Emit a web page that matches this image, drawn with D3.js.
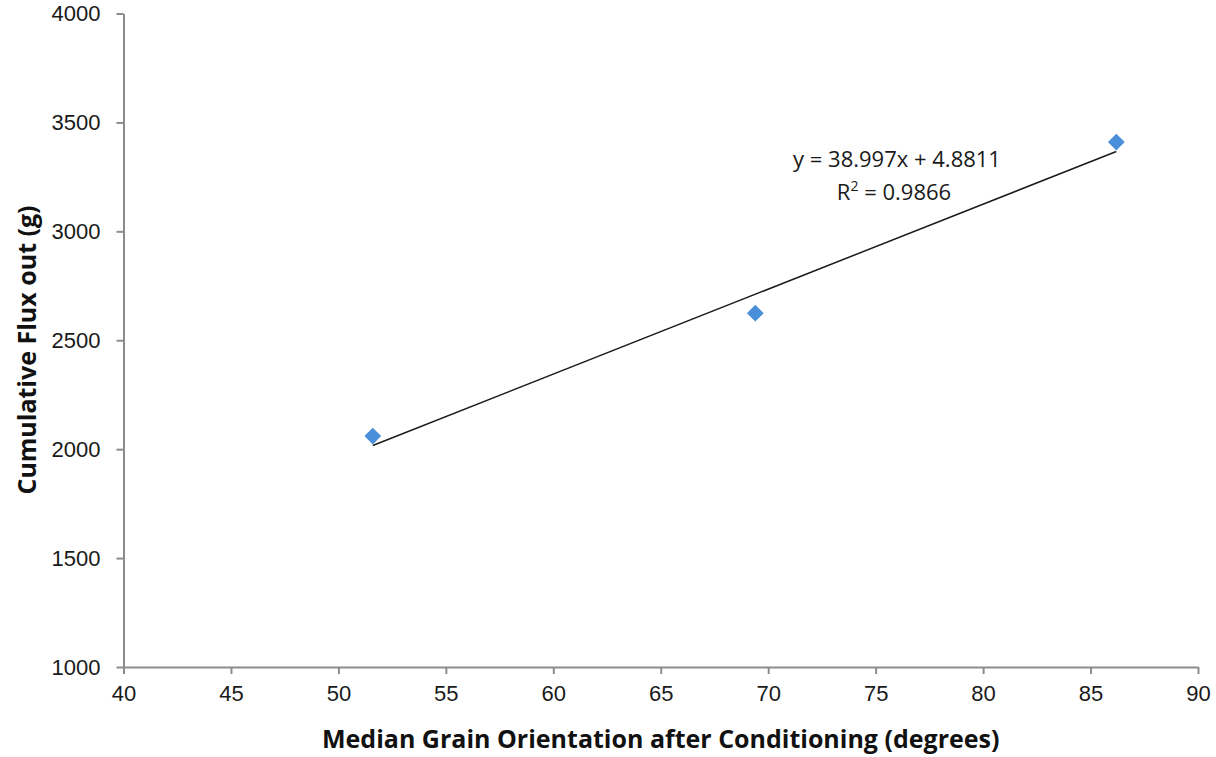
<!DOCTYPE html>
<html>
<head>
<meta charset="utf-8">
<script src="https://cdn.jsdelivr.net/npm/d3@7"></script>
<style>
  body { margin: 0; background: #fff; }
  svg { display: block; }
</style>
</head>
<body>
<svg></svg>
<script>
let width = 1216, height = 757;

// data
let orientation = [51.6, 69.4, 86.2];
let flux = [2060, 2624, 3410];
let xTicks = [40, 45, 50, 55, 60, 65, 70, 75, 80, 85, 90];
let yTicks = [1000, 1500, 2000, 2500, 3000, 3500, 4000];
let slope = 38.997, intercept = 4.8811;
let eqLabel = "y = 38.997x + 4.8811";
let r2Label = "0.9866";

let svg = d3.select("svg")
    .attr("width", width)
    .attr("height", height);

let x = d3.scaleLinear().domain([40, 90]).range([123.5, 1198]);
let y = d3.scaleLinear().domain([1000, 4000]).range([667, 13.5]);

let font = "'Open Sans', 'Liberation Sans', sans-serif";
let tickFont = "'Liberation Sans', Arial, sans-serif";

// axes
let xAxis = svg.append("g")
    .attr("transform", "translate(0," + y(1000) + ")")
    .call(d3.axisBottom(x).tickValues(xTicks).tickFormat(d3.format("d"))
        .tickSize(7).tickPadding(11).tickSizeOuter(0));

let yAxis = svg.append("g")
    .attr("transform", "translate(" + x(40) + ",0)")
    .call(d3.axisLeft(y).tickValues(yTicks).tickFormat(d3.format("d"))
        .tickSize(7).tickPadding(16).tickSizeOuter(0));

[xAxis, yAxis].forEach(a => {
    a.select(".domain").attr("stroke", "#8c8c8c").attr("stroke-width", 2);
    a.selectAll(".tick line").attr("stroke", "#8c8c8c").attr("stroke-width", 2);
    a.selectAll(".tick text")
        .attr("fill", "#1a1a1a")
        .style("font-family", tickFont)
        .style("font-size", "22px");
});

// trendline
let xs = d3.extent(orientation);
svg.append("line")
    .attr("x1", x(xs[0])).attr("y1", y(slope * xs[0] + intercept))
    .attr("x2", x(xs[1])).attr("y2", y(slope * xs[1] + intercept))
    .attr("stroke", "#1a1a1a")
    .attr("stroke-width", 1.5);

// points
svg.append("g")
    .selectAll("path")
    .data(orientation)
    .enter()
    .append("path")
    .attr("d", d3.symbol().type(d3.symbolSquare).size(140))
    .attr("transform", (d, i) => "translate(" + x(d) + "," + y(flux[i]) + ") rotate(45)")
    .attr("fill", "#4a8fd9");

// equation labels
let eq = svg.append("g")
    .style("font-family", font)
    .style("font-size", "22px")
    .attr("fill", "#1a1a1a")
    .attr("text-anchor", "middle");

eq.append("text")
    .attr("x", 897).attr("y", 167)
    .text(eqLabel);

let r2 = eq.append("text")
    .attr("x", 894).attr("y", 200);
r2.append("tspan").text("R");
r2.append("tspan").attr("dy", -9).style("font-size", "14px").text("2");
r2.append("tspan").attr("dy", 9).text(" = " + r2Label);

// axis titles
svg.append("text")
    .attr("x", (x(40) + x(90)) / 2)
    .attr("y", 748)
    .attr("text-anchor", "middle")
    .style("font-family", font)
    .style("font-weight", "bold")
    .style("font-size", "25px")
    .attr("fill", "#111")
    .text("Median Grain Orientation after Conditioning (degrees)");

svg.append("text")
    .attr("transform", "translate(36,350) rotate(-90)")
    .attr("text-anchor", "middle")
    .style("font-family", font)
    .style("font-weight", "bold")
    .style("font-size", "25px")
    .attr("fill", "#111")
    .text("Cumulative Flux out (g)");
</script>
</body>
</html>
